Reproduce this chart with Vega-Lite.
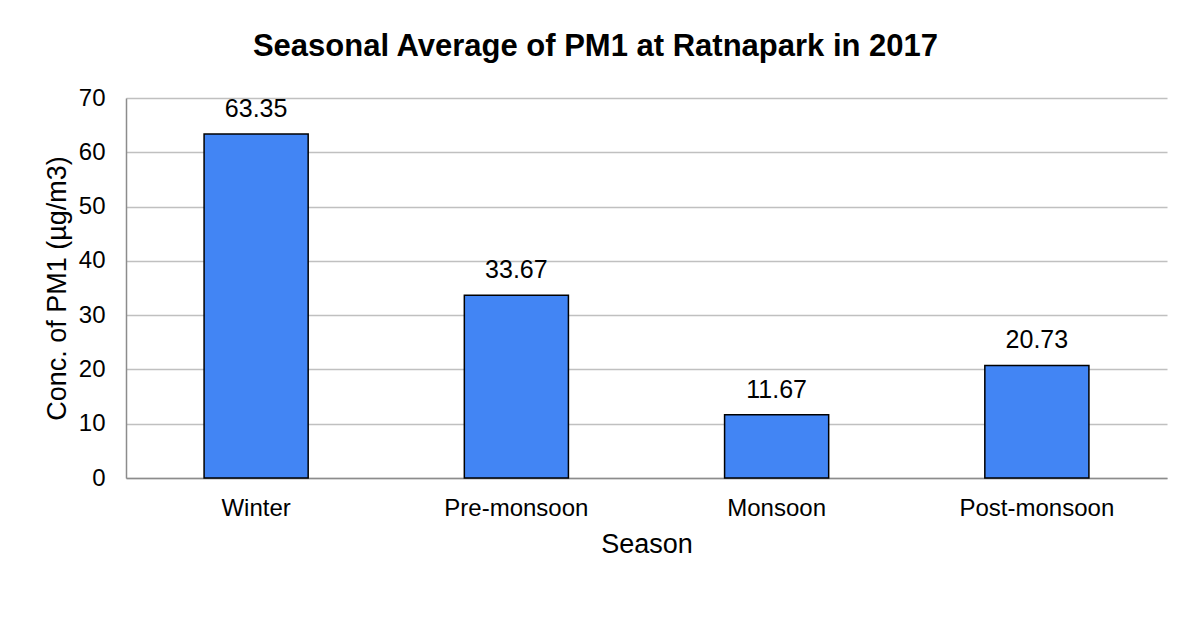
{
  "$schema": "https://vega.github.io/schema/vega-lite/v6.json",
  "width": 1041,
  "height": 380,
  "autosize": {"type": "none"},
  "padding": {"left": 126, "top": 98, "right": 19, "bottom": 140},
  "background": "white",
  "title": {
    "text": "Seasonal Average of PM1 at Ratnapark in 2017",
    "font": "Liberation Sans",
    "fontSize": 31,
    "fontWeight": "bold",
    "color": "#000000",
    "anchor": "middle",
    "dx": -51,
    "offset": 23
  },
  "data": {
    "values": [
      {"Season": "Winter", "PM1": 63.35},
      {"Season": "Pre-monsoon", "PM1": 33.67},
      {"Season": "Monsoon", "PM1": 11.67},
      {"Season": "Post-monsoon", "PM1": 20.73}
    ]
  },
  "encoding": {
    "x": {
      "field": "Season",
      "type": "nominal",
      "sort": null,
      "scale": {"paddingInner": 0.6, "paddingOuter": 0.3},
      "axis": {
        "labelAngle": 0,
        "ticks": false,
        "domainColor": "#8c8c8c",
        "domainWidth": 1.5,
        "labelFont": "Liberation Sans",
        "labelFontSize": 24,
        "labelColor": "#000000",
        "labelPadding": 18,
        "title": "Season",
        "titleFont": "Liberation Sans",
        "titleFontSize": 27,
        "titleFontWeight": "normal",
        "titleColor": "#000000",
        "titlePadding": 11
      }
    },
    "y": {
      "field": "PM1",
      "type": "quantitative",
      "scale": {"domain": [0, 70]},
      "axis": {
        "values": [0, 10, 20, 30, 40, 50, 60, 70],
        "ticks": false,
        "domainColor": "#8c8c8c",
        "domainWidth": 1.5,
        "gridColor": "#c0c0c0",
        "gridWidth": 1.5,
        "labelFont": "Liberation Sans",
        "labelFontSize": 24,
        "labelColor": "#000000",
        "labelPadding": 21,
        "title": "Conc. of PM1 (µg/m3)",
        "titleFont": "Liberation Sans",
        "titleFontSize": 27,
        "titleFontWeight": "normal",
        "titleColor": "#000000",
        "titlePadding": 7
      }
    }
  },
  "layer": [
    {
      "mark": {"type": "bar", "color": "#4285f4", "stroke": "#000000", "strokeWidth": 1.5}
    },
    {
      "mark": {"type": "text", "baseline": "alphabetic", "dy": -17, "font": "Liberation Sans", "fontSize": 25, "color": "#000000"},
      "encoding": {
        "text": {"field": "PM1", "type": "quantitative", "format": ".2f"}
      }
    }
  ],
  "config": {
    "view": {"stroke": null}
  }
}
